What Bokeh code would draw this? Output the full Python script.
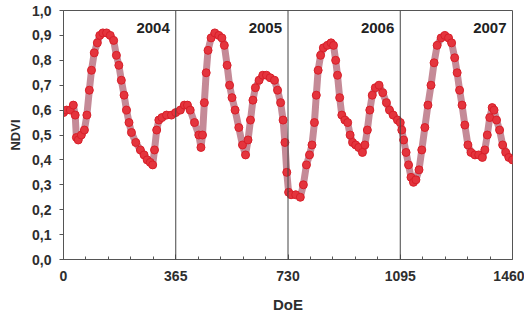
from bokeh.plotting import figure
from bokeh.models import FixedTicker, Span, Label, ColumnDataSource
from bokeh.embed import file_html
from bokeh.resources import INLINE

days = [0, 10, 22, 32, 38, 42, 48, 58, 68, 76, 84, 91, 100, 110, 118, 128, 140, 152, 163, 172,
        180, 188, 197, 205, 213, 221, 235, 250, 262, 272, 282, 290, 296, 303, 310, 320, 335, 351, 365,
        380, 393, 403, 412, 426, 440, 447, 452, 458, 464, 470, 480, 492, 505, 515, 523, 532, 540,
        548, 558, 570, 582, 592, 600, 608, 616, 624, 636, 648, 660, 672, 686, 696, 706, 714, 720, 726, 732,
        740, 755, 770, 780, 790, 800, 808, 816, 822, 828, 836, 845, 858, 870, 878, 885, 891, 898,
        905, 915, 924, 932, 940, 950, 960, 972, 980, 988, 996, 1004, 1014, 1026, 1038, 1050, 1060,
        1072, 1086, 1095,
        1100, 1106, 1114, 1122, 1130, 1138, 1146, 1156, 1165, 1175, 1185, 1195, 1205, 1215, 1228,
        1240, 1252, 1262, 1272, 1280, 1288, 1296, 1305, 1315, 1325, 1338, 1350, 1362, 1370, 1378,
        1386, 1394, 1400, 1408, 1418, 1428, 1438, 1448, 1460]
ndvi = [0.59, 0.60, 0.60, 0.62, 0.58, 0.49, 0.48, 0.50, 0.52, 0.58, 0.68, 0.76, 0.83, 0.87, 0.90, 0.91, 0.91, 0.90, 0.88, 0.82,
        0.78, 0.72, 0.66, 0.60, 0.55, 0.51, 0.47, 0.44, 0.42, 0.40, 0.39, 0.38, 0.44, 0.52, 0.56, 0.57, 0.58, 0.58, 0.59,
        0.60, 0.62, 0.62, 0.60, 0.55, 0.50, 0.45, 0.50, 0.63, 0.75, 0.84, 0.89, 0.91, 0.90, 0.89, 0.86, 0.78, 0.70,
        0.65, 0.60, 0.53, 0.46, 0.42, 0.48, 0.56, 0.64, 0.69, 0.72, 0.74, 0.74, 0.73, 0.72, 0.68, 0.63, 0.56, 0.47, 0.35, 0.27,
        0.26, 0.26, 0.25, 0.30, 0.38, 0.42, 0.46, 0.55, 0.66, 0.76, 0.82, 0.85, 0.86, 0.87, 0.86, 0.80, 0.74, 0.65,
        0.58, 0.56, 0.55, 0.50, 0.47, 0.46, 0.45, 0.43, 0.46, 0.52, 0.60, 0.66, 0.69, 0.70, 0.67, 0.63, 0.60,
        0.58, 0.56, 0.55,
        0.52, 0.48, 0.43, 0.38, 0.33, 0.31, 0.32, 0.36, 0.44, 0.53, 0.62, 0.70, 0.79, 0.86, 0.89,
        0.90, 0.89, 0.87, 0.81, 0.75, 0.68, 0.62, 0.54, 0.46, 0.43, 0.42, 0.42, 0.41, 0.44, 0.50,
        0.57, 0.61, 0.60, 0.56, 0.52, 0.46, 0.43, 0.41, 0.40]

x_ticks = [0, 365, 730, 1095, 1460]
x_minor = [73, 146, 219, 292, 438, 511, 584, 657, 803, 876, 949, 1022, 1168, 1241, 1314, 1387]
y_ticks = [0.0, 0.1, 0.2, 0.3, 0.4, 0.5, 0.6, 0.7, 0.8, 0.9, 1.0]
y_labels = ["0,0", "0,1", "0,2", "0,3", "0,4", "0,5", "0,6", "0,7", "0,8", "0,9", "1,0"]
year_pos = [365, 730, 1095, 1460]
year_labels = ["2004", "2005", "2006", "2007"]

FONT = "Liberation Sans"
TXT = "#2e2e2e"

p = figure(width=524, height=316, x_range=(0, 1460), y_range=(0, 1.0),
           output_backend="svg", toolbar_location=None,
           min_border_left=63, min_border_right=12, min_border_top=10, min_border_bottom=57)
p.grid.visible = False
p.outline_line_color = "#555555"
p.outline_line_width = 1
p.background_fill_color = "white"
p.border_fill_color = "white"

src = ColumnDataSource(dict(x=days, y=ndvi))
p.line("x", "y", source=src, line_color="#c58a97", line_width=7)
p.scatter("x", "y", source=src, marker="circle", size=8,
          fill_color="#e4343d", line_color="#d81f29", line_width=1)

for xv in year_pos[:-1]:
    p.add_layout(Span(location=xv, dimension="height", line_color="#444444", line_width=1))

for xv, lab in zip(year_pos, year_labels):
    p.add_layout(Label(x=xv, y=0.91, x_offset=-6, text=lab, text_align="right",
                       text_baseline="bottom", text_font=FONT, text_font_style="bold",
                       text_font_size="15px", text_color="#222222"))

xa = p.xaxis[0]
xa.ticker = FixedTicker(ticks=x_ticks, minor_ticks=x_minor)
xa.major_tick_in = 5
xa.major_tick_out = 0
xa.minor_tick_in = 3
xa.minor_tick_out = 0
xa.axis_line_color = "#555555"
xa.major_tick_line_color = "#555555"
xa.minor_tick_line_color = "#555555"
xa.major_label_text_font = FONT
xa.major_label_text_font_style = "bold"
xa.major_label_text_font_size = "14px"
xa.major_label_text_color = TXT
xa.major_label_standoff = 11
xa.axis_label = "DoE"
xa.axis_label_text_font = FONT
xa.axis_label_text_font_style = "bold"
xa.axis_label_text_font_size = "15px"
xa.axis_label_text_color = TXT
xa.axis_label_standoff = 12

ya = p.yaxis[0]
ya.ticker = FixedTicker(ticks=y_ticks, minor_ticks=[])
ya.major_label_overrides = {t: l for t, l in zip(y_ticks, y_labels)}
ya.major_tick_in = 0
ya.major_tick_out = 4
ya.axis_line_color = "#555555"
ya.major_tick_line_color = "#555555"
ya.major_label_text_font = FONT
ya.major_label_text_font_style = "bold"
ya.major_label_text_font_size = "14px"
ya.major_label_text_color = TXT
ya.major_label_standoff = 8
ya.axis_label = "NDVI"
ya.axis_label_text_font = FONT
ya.axis_label_text_font_style = "bold"
ya.axis_label_text_font_size = "13px"
ya.axis_label_text_color = TXT
ya.axis_label_standoff = 6

open("out.html", "w").write(file_html(p, INLINE))
